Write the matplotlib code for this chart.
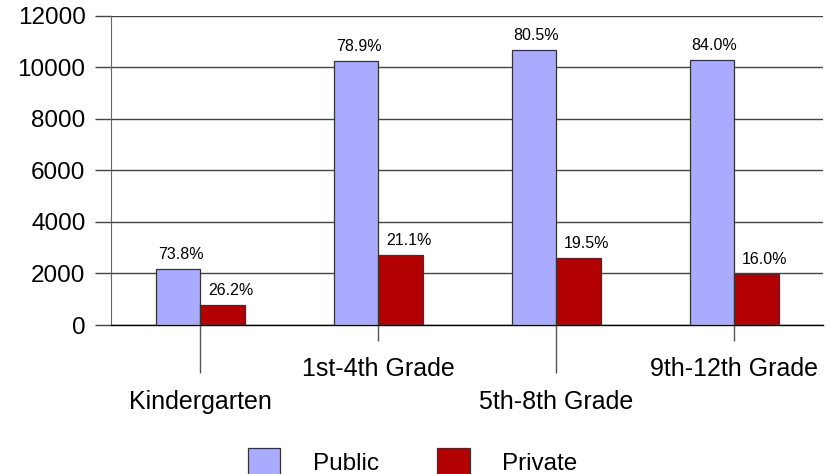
import matplotlib
matplotlib.use("Agg")
import matplotlib.pyplot as plt
import numpy as np

plt.rcParams['font.family'] = ['Liberation Sans', 'DejaVu Sans']

categories = ["Kindergarten", "1st-4th Grade", "5th-8th Grade", "9th-12th Grade"]
public = [2175, 10226, 10667, 10265]
private = [777, 2731, 2589, 1968]
public_pct = ["73.8%", "78.9%", "80.5%", "84.0%"]
private_pct = ["26.2%", "21.1%", "19.5%", "16.0%"]
series_names = ["Public", "Private"]
yticks = [0, 2000, 4000, 6000, 8000, 10000, 12000]

c_pub = '#aaaaff'
c_priv = '#b30000'
grid_c = '#444444'

fig = plt.figure(figsize=(8.31, 4.74), dpi=100)
ax = fig.add_axes([111/831, 1 - 325/474, (823 - 111)/831, (325 - 15.7)/474])

x = np.arange(len(categories))
w = 0.25
b1 = ax.bar(x - w/2, public, w, color=c_pub, edgecolor='#333333', linewidth=0.9,
            label=series_names[0], zorder=3)
b2 = ax.bar(x + w/2, private, w, color=c_priv, edgecolor='#333333', linewidth=0.9,
            label=series_names[1], zorder=3)

for bars, labels, dx in ((b1, public_pct, 2.0), (b2, private_pct, 6.0)):
    for rect, lab in zip(bars, labels):
        ax.annotate(lab, (rect.get_x() + rect.get_width() / 2, rect.get_height()),
                    xytext=(dx, 5), textcoords='offset points', ha='center', va='bottom',
                    fontsize=11.5)

ax.set_xlim(-0.5, len(categories) - 0.5)
ax.set_ylim(0, 12000)
ax.set_yticks(yticks)
ax.set_yticklabels([str(v) for v in yticks], fontsize=17.5)
ax.yaxis.grid(True, color=grid_c, linewidth=1.0, zorder=0)
ax.set_axisbelow(True)

ax.set_xticks(x[::2])
ax.set_xticklabels(categories[::2], fontsize=18)
ax.set_xticks(x[1::2], minor=True)
ax.set_xticklabels(categories[1::2], minor=True, fontsize=18)
ax.tick_params(axis='x', which='major', length=34.5, width=1, color='#555555', pad=12)
ax.tick_params(axis='x', which='minor', length=11.3, width=1, color='#555555', pad=12)
ax.tick_params(axis='y', length=11.3, width=1, color=grid_c, pad=7)

for s in ['top', 'right']:
    ax.spines[s].set_visible(False)
ax.spines['left'].set_color('#666666')
ax.spines['bottom'].set_color('#000000')
ax.spines['bottom'].set_linewidth(1.0)

handles = [b1, b2]
leg = fig.legend(handles, series_names, loc='center', bbox_to_anchor=(412.5/831, 1 - 461.5/474),
                 ncol=2, frameon=False, fontsize=17.5, handlelength=1.34, handleheight=1.34,
                 handletextpad=1.34, columnspacing=2.4, borderpad=0)

fig.savefig('out.png', dpi=100)
